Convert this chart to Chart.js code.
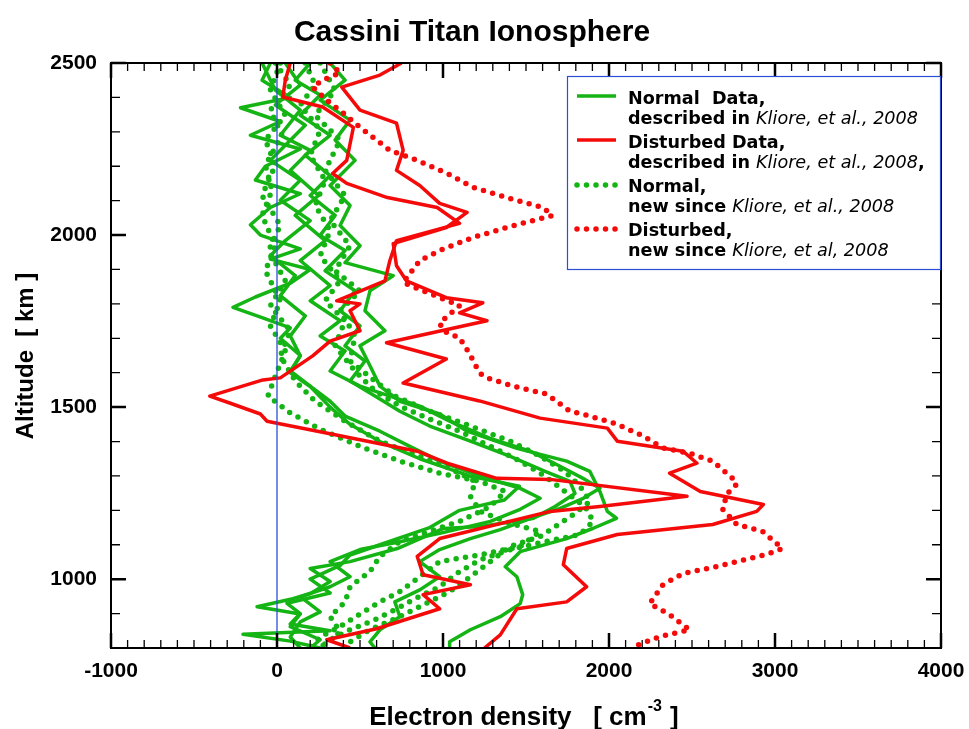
<!DOCTYPE html>
<html>
<head>
<meta charset="utf-8">
<script src="https://cdn.jsdelivr.net/npm/chart.js@4.4.1/dist/chart.umd.min.js"></script>
<style>
  html, body { margin: 0; padding: 0; background: #fff; }
  canvas { display: block; }
</style>
</head>
<body>
<canvas id="chart" width="969" height="729"></canvas>
<script>
// axis ticks
const xTickLabels = [-1000, 0, 1000, 2000, 3000, 4000];
const yTickLabels = [1000, 1500, 2000, 2500];

// Disturbed data (solid red), altitude [km] / electron density [cm^-3]
const redA_alt = [2500,2465,2430,2363,2325,2246,2188,2144,2092,2066,2022,1975,1911,1867,1818,1803,1774,1751,1687,1640,1570,1518,1468,1439,1401,1372,1337,1308,1255,1217,1197,1159,1130,1089,1042,978,934,914,838,800];
const redA_ne  = [750,620,390,500,720,760,720,860,980,1145,1020,700,720,780,1020,1240,1100,1265,660,1020,760,1220,1585,1990,2050,2445,2530,2365,2550,2930,2890,2625,2050,1745,1725,1865,1745,1445,1345,1250];
const redB_alt = [2500,2450,2401,2372,2313,2217,2179,2150,2109,2080,2034,1984,1926,1867,1809,1800,1780,1722,1692,1649,1585,1579,1532,1512,1480,1459,1421,1372,1337,1293,1290,1241,1211,1197,1118,1066,1013,984,955,914,856,824,800];
const redB_ne  = [80,50,35,275,460,420,335,420,665,965,1100,720,680,650,360,500,440,500,320,215,20,-85,-405,-285,-100,-60,335,845,1025,1325,1645,2470,1945,1645,980,845,880,1165,880,980,600,300,440];

// Disturbed, new (dotted red)
const redDot_alt = [2500,2471,2450,2430,2392,2354,2313,2276,2246,2217,2179,2139,2109,2080,2057,2042,2022,1993,1955,1926,1862,1838,1795,1745,1722,1701,1655,1599,1585,1561,1538,1488,1480,1451,1416,1381,1366,1343,1293,1276,1247,1203,1159,1139,1089,1072,1037,1016,984,929,897,853,833,803];
const redDot_ne  = [320,380,275,215,300,400,500,600,680,845,1025,1180,1385,1600,1660,1540,1385,1180,980,860,760,880,1100,980,1000,1100,1160,1220,1265,1420,1625,1765,1840,2045,2205,2325,2485,2625,2745,2770,2710,2685,2770,2925,3045,2950,2650,2445,2325,2245,2365,2485,2305,2145];

// Normal data (solid green)
const grnA_alt = [2500,2450,2400,2370,2330,2290,2250,2200,2160,2120,2080,2030,2000,1960,1930,1900,1860,1820,1790,1760,1730,1700,1650,1600,1560,1500,1450,1400,1350,1300,1270,1230,1200,1150,1100,1070,1040,1000,960,930,900,870,850,840,820,800];
const grnA_ne  = [-40,-90,80,-220,20,-160,140,-70,-130,140,-40,-160,-100,140,-40,200,80,-130,-265,-90,80,20,140,80,200,320,440,620,860,1160,1460,1370,1100,920,620,440,380,200,320,60,140,80,320,-205,80,260];
const grnB_alt = [2500,2450,2392,2334,2276,2217,2144,2086,2028,1969,1920,1882,1838,1780,1722,1678,1620,1561,1517,1480,1430,1380,1343,1313,1255,1197,1177,1148,1118,1080,1036,1007,955,929,891,853,818,800];
const grnB_ne  = [320,410,260,440,350,470,320,440,380,500,410,700,560,530,650,500,560,620,740,980,1145,1445,1745,1885,1945,1990,2045,1905,1745,1465,1375,1445,1480,1465,1345,1165,1040,1040];
const grnC_alt = [2500,2421,2363,2290,2246,2188,2115,2057,1984,1926,1853,1809,1751,1707,1663,1605,1561,1532,1503,1459,1410,1372,1328,1290,1264,1235,1206,1176,1144,1118,1086,1051,1007,969,934,891,853,818,800];
const grnC_ne  = [-90,-10,140,20,200,80,250,110,290,140,320,200,380,260,410,320,500,680,860,1040,1280,1525,1705,1855,1945,1845,1705,1525,1345,1165,980,860,980,860,710,740,620,560,590];
const grnD_alt = [2500,2436,2378,2319,2261,2217,2159,2101,2042,1984,1940,1882,1824,1765,1707,1649,1605,1561,1517,1474,1430,1386,1343,1299,1264,1235,1203,1168,1133,1109,1086,1051,1007,978,949,905,876,832,800];
const grnD_ne  = [50,140,-10,170,50,-40,140,20,200,50,-40,110,20,170,80,140,80,200,320,410,620,800,980,1225,1465,1585,1465,1285,980,740,500,320,440,320,140,260,140,80,140];
const grnE_alt = [2500,2450,2407,2348,2290,2232,2173,2115,2057,1999,1955,1896,1838,1780,1736,1678,1634,1576,1532,1488,1445,1401,1357,1313,1284,1249,1211,1176,1153,1147,1089,1051,1031,993,958,943,920,899,862,824,800];
const grnE_ne  = [200,110,260,140,320,170,320,200,350,260,410,290,470,380,500,410,530,440,590,740,920,1165,1405,1615,1765,1795,1675,1540,1225,1000,725,440,200,320,200,95,-120,140,80,260,200];

// Normal, new (dotted green)
const gDotA_alt = [2500,2436,2378,2305,2232,2159,2086,2013,1940,1867,1809,1751,1678,1605,1547,1503,1465,1430,1386,1343,1299,1255,1211,1168,1130,1109,1086,1057,1022,978,943,911,882,853,824,800];
const gDotA_ne  = [170,230,140,260,200,290,230,320,260,380,290,410,350,470,590,740,920,1100,1285,1465,1615,1735,1855,1905,1825,1615,1405,1225,1100,980,830,710,590,440,320,260];
const gDotB_alt = [2500,2421,2348,2276,2203,2115,2028,1955,1867,1794,1722,1649,1576,1517,1459,1401,1357,1322,1284,1241,1197,1162,1139,1095,1071,1051,1007,964,934,899,862,832,800];
const gDotB_ne  = [20,-40,50,-70,-10,-90,20,-50,50,-40,80,20,110,230,410,620,860,1040,1195,1165,1225,1405,1585,1465,1225,980,860,740,620,500,380,260,200];
const gDotC_alt = [2500,2436,2363,2290,2203,2130,2057,1969,1896,1809,1736,1663,1590,1532,1483,1436,1386,1343,1308,1284,1255,1211,1168,1139,1109,1066,1022,978,934,891,847,800];
const gDotC_ne  = [-10,80,-40,30,-70,-30,-90,-10,-70,20,-40,50,-10,-55,80,260,500,740,980,1225,1375,1285,1100,920,740,620,560,440,410,320,380,260];
const gDotD_alt = [2500,2421,2348,2276,2188,2115,2042,1969,1896,1838,1780,1707,1634,1576,1532,1488,1445,1401,1357,1313,1270,1226,1191,1162,1124,1095,1051,1007,964,920,891,853,818,800];
const gDotD_ne  = [260,350,230,380,290,410,320,440,350,500,380,470,440,590,710,920,1165,1405,1585,1735,1825,1885,1795,1705,1585,1405,1285,1165,1040,860,740,560,440,410];

// zero reference line
const zeroAlt = [800, 2500];
const zeroNe = [0, 0];

const GREEN = '#14b414';
const RED = '#f50a0a';
const BLUE = '#2a4fd6';
const FONT = '"Liberation Sans", Arial, sans-serif';
const LFONT = '"DejaVu Sans", Verdana, sans-serif';

function pts(alt, ne){
  return alt.map((a, i) => ({ x: ne[i], y: a }));
}

function solid(alt, ne, color){
  return { data: pts(alt, ne), borderColor: color, borderWidth: 3.5, pointRadius: 0,
           showLine: true, tension: 0, fill: false, borderJoinStyle: 'round', clip: 0 };
}

function dotted(alt, ne, color){
  return { data: pts(alt, ne), borderColor: color, borderWidth: 5.5, pointRadius: 0,
           showLine: true, tension: 0, fill: false, borderDash: [0, 9.5], borderCapStyle: 'round', clip: 0 };
}

// first dataset is painted last (on top)
const datasets = [
  { data: pts(zeroAlt, zeroNe), borderColor: BLUE, borderWidth: 1.3, pointRadius: 0, showLine: true, clip: 0 },
  dotted(redDot_alt, redDot_ne, RED),
  solid(redA_alt, redA_ne, RED),
  solid(redB_alt, redB_ne, RED),
  dotted(gDotA_alt, gDotA_ne, GREEN),
  dotted(gDotB_alt, gDotB_ne, GREEN),
  dotted(gDotC_alt, gDotC_ne, GREEN),
  dotted(gDotD_alt, gDotD_ne, GREEN),
  solid(grnA_alt, grnA_ne, GREEN),
  solid(grnB_alt, grnB_ne, GREEN),
  solid(grnC_alt, grnC_ne, GREEN),
  solid(grnD_alt, grnD_ne, GREEN),
  solid(grnE_alt, grnE_ne, GREEN),
];

function drawRuns(ctx, x, y, runs){
  for(const [text, style] of runs){
    ctx.font = style + ' 17.6px ' + LFONT;
    ctx.fillText(text, x, y);
    x += ctx.measureText(text).width;
  }
}

const framePlugin = {
  id: 'frame',
  beforeDraw(chart){
    const ctx = chart.ctx;
    ctx.save();
    ctx.fillStyle = '#fff';
    ctx.fillRect(0, 0, chart.width, chart.height);
    ctx.restore();
  },
  afterDraw(chart){
    const { ctx, chartArea: a, scales: { x, y } } = chart;
    ctx.save();
    ctx.strokeStyle = '#000';

    // minor / major ticks, pointing inwards on all four sides
    for(const major of [false, true]){
      ctx.lineWidth = major ? 2.5 : 1.3;
      ctx.beginPath();
      for(let v = -1000; v <= 4000; v += 100){
        if((v % 1000 === 0) !== major) continue;
        const px = x.getPixelForValue(v);
        const len = major ? 15 : 8;
        ctx.moveTo(px, a.bottom); ctx.lineTo(px, a.bottom - len);
        ctx.moveTo(px, a.top); ctx.lineTo(px, a.top + len);
      }
      for(let v = 800; v <= 2500; v += 100){
        if((v % 500 === 0) !== major) continue;
        const py = y.getPixelForValue(v);
        const len = major ? 15 : 9;
        ctx.moveTo(a.left, py); ctx.lineTo(a.left + len, py);
        ctx.moveTo(a.right, py); ctx.lineTo(a.right - len, py);
      }
      ctx.stroke();
    }
    ctx.lineWidth = 2;
    ctx.strokeRect(a.left, a.top, a.right - a.left, a.bottom - a.top);

    // title
    ctx.fillStyle = '#000';
    ctx.textAlign = 'center';
    ctx.textBaseline = 'alphabetic';
    ctx.font = 'bold 30px ' + FONT;
    ctx.fillText('Cassini Titan Ionosphere', 472, 41);

    // y axis title
    ctx.save();
    ctx.translate(26, 356);
    ctx.rotate(-Math.PI / 2);
    ctx.font = 'bold 24px ' + FONT;
    ctx.textBaseline = 'middle';
    ctx.fillText('Altitude  [ km ]', 0, 0);
    ctx.restore();

    // x axis title with superscript
    ctx.textAlign = 'left';
    ctx.font = 'bold 26px ' + FONT;
    const p1 = 'Electron density   [ cm', p3 = ' ]';
    const w1 = ctx.measureText(p1).width, w3 = ctx.measureText(p3).width;
    ctx.font = 'bold 16px ' + FONT;
    const w2 = ctx.measureText('-3').width;
    let tx = 523 - (w1 + w2 + w3) / 2;
    ctx.font = 'bold 26px ' + FONT;
    ctx.fillText(p1, tx, 725);
    ctx.font = 'bold 16px ' + FONT;
    ctx.fillText('-3', tx + w1 + 1, 711);
    ctx.font = 'bold 26px ' + FONT;
    ctx.fillText(p3, tx + w1 + w2 + 2, 725);

    // legend
    const L = 567, T = 76, R = 940, B = 269;
    ctx.fillStyle = '#fff';
    ctx.fillRect(L, T, R - L, B - T);
    ctx.strokeStyle = BLUE;
    ctx.lineWidth = 1.2;
    ctx.strokeRect(L + 0.5, T + 0.5, R - L, B - T);

    const samples = [[96, GREEN, false], [140, RED, false], [185, GREEN, true], [229, RED, true]];
    for(const [sy, col, dots] of samples){
      ctx.beginPath();
      ctx.strokeStyle = col;
      if(dots){ ctx.lineWidth = 5.5; ctx.lineCap = 'round'; ctx.setLineDash([0, 9.5]); }
      else { ctx.lineWidth = 3.5; ctx.lineCap = 'butt'; ctx.setLineDash([]); }
      ctx.moveTo(577, sy); ctx.lineTo(616, sy);
      ctx.stroke();
    }
    ctx.setLineDash([]);

    ctx.fillStyle = '#000';
    const tx0 = 628;
    drawRuns(ctx, tx0, 104, [['Normal  Data,', 'bold']]);
    drawRuns(ctx, tx0, 124, [['described in ', 'bold'], ['Kliore, et al., 2008', 'italic']]);
    drawRuns(ctx, tx0, 148, [['Disturbed Data,', 'bold']]);
    drawRuns(ctx, tx0, 168, [['described in ', 'bold'], ['Kliore, et al., 2008', 'italic'], [',', 'bold']]);
    drawRuns(ctx, tx0, 192, [['Normal,', 'bold']]);
    drawRuns(ctx, tx0, 212, [['new since ', 'bold'], ['Kliore, et al., 2008', 'italic']]);
    drawRuns(ctx, tx0, 236, [['Disturbed,', 'bold']]);
    drawRuns(ctx, tx0, 256, [['new since ', 'bold'], ['Kliore, et al, 2008', 'italic']]);
    ctx.restore();
  }
};

const tickFont = { family: FONT, size: 21, weight: 'bold' };

new Chart(document.getElementById('chart'), {
  type: 'scatter',
  data: { datasets },
  options: {
    responsive: false,
    animation: false,
    devicePixelRatio: 1,
    layout: { padding: { top: 63, right: 28, left: 0, bottom: 0 } },
    plugins: { legend: { display: false }, title: { display: false }, tooltip: { enabled: false } },
    scales: {
      x: {
        type: 'linear', min: -1000, max: 4000,
        afterBuildTicks: s => { s.ticks = xTickLabels.map(v => ({ value: v })); },
        ticks: { font: tickFont, color: '#000', padding: 11, maxRotation: 0, autoSkip: false,
                 callback: v => String(v) },
        grid: { display: false, drawTicks: false },
        border: { display: false },
        afterFit: s => { s.height = 81; s.paddingLeft = 0; s.paddingRight = 0; }
      },
      y: {
        type: 'linear', min: 800, max: 2500,
        afterBuildTicks: s => { s.ticks = yTickLabels.map(v => ({ value: v })); },
        ticks: { font: tickFont, color: '#000', padding: 14, autoSkip: false,
                 callback: v => String(v) },
        grid: { display: false, drawTicks: false },
        border: { display: false },
        afterFit: s => { s.width = 111; s.paddingTop = 0; s.paddingBottom = 0; }
      }
    }
  },
  plugins: [framePlugin]
});
</script>
</body>
</html>
